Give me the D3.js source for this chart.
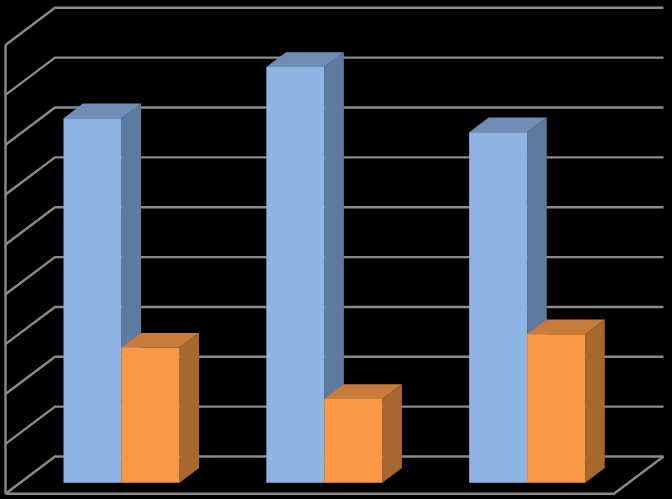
<!DOCTYPE html>
<html>
<head>
<meta charset="utf-8">
<script src="https://cdn.jsdelivr.net/npm/d3@7"></script>
<style>
  html, body { margin: 0; padding: 0; background: #000; overflow: hidden; }
</style>
</head>
<body>
<svg id="chart" width="672" height="499"></svg>
<script>
// Values (the chart has no visible labels)
const categories = ['1', '2', '3'];
const seriesBlue = [7.31, 8.34, 7.03];
const seriesOrange = [2.71, 1.68, 2.98];
const yTicks = [0, 1, 2, 3, 4, 5, 6, 7, 8, 9];

const svg = d3.select('#chart');

// Chart dimensions
const floorLeft = 5.5, floorRight = 614, floorY = 493.7, wallTop = 45;
const depthX = 49.5, depthY = 37.2;
const barFront = 0.295, barBack = 0.69;

// Define scales
const xScale = d3.scaleBand()
    .domain(categories)
    .range([floorLeft, floorRight])
    .paddingInner(0)
    .paddingOuter(0);

const yScale = d3.scaleLinear()
    .domain([0, 9])
    .range([floorY, wallTop]);

// Bars take 116px of each 202.8px category, shifted by the front gap
const serieScale = d3.scaleBand()
    .domain(['blue', 'orange'])
    .range([xScale.bandwidth() * 0.214, xScale.bandwidth() * 0.786]);

// Oblique projection: z = 0 is the front of the floor, z = 1 the back wall
const project = (x, v, z) => [x + z * depthX, yScale(v) - z * depthY];
const poly = pts => d3.line()(pts) + 'Z';

const gridColor = '#8a8a8a';
const gridG = svg.append('g')
    .attr('fill', 'none')
    .attr('stroke', gridColor)
    .attr('stroke-width', 2.4);

// Back wall gridlines and their run down the side wall
gridG.selectAll('path.grid')
    .data(yTicks)
    .join('path')
    .attr('class', 'grid')
    .attr('d', t => d3.line()([
        project(floorLeft, t, 0),
        project(floorLeft, t, 1),
        project(floorRight, t, 1)
    ]));

// Left wall edge and floor outline
gridG.append('path')
    .attr('d', d3.line()([project(floorLeft, 0, 0), project(floorLeft, 9, 0)]));
gridG.append('path')
    .attr('d', d3.line()([
        project(floorLeft, 0, 0),
        project(floorRight, 0, 0),
        project(floorRight, 0, 1)
    ]));

const series = [
    { name: 'blue', values: seriesBlue, front: '#8eb4e3', top: '#6f8db5', side: '#5f7a9f' },
    { name: 'orange', values: seriesOrange, front: '#f99746', top: '#c77c3c', side: '#a6682f' }
];

// Append bars, blue first so orange covers its side face
series.forEach(s => {
    const g = svg.append('g');
    const bars = g.selectAll('g')
        .data(categories.map((c, i) => ({ c, v: s.values[i] })))
        .join('g');
    const x0 = d => xScale(d.c) + serieScale(s.name);
    const x1 = d => x0(d) + serieScale.bandwidth();

    bars.append('path')
        .attr('fill', s.side)
        .attr('d', d => poly([
            project(x1(d), 0, barFront), project(x1(d), 0, barBack),
            project(x1(d), d.v, barBack), project(x1(d), d.v, barFront)
        ]));
    bars.append('path')
        .attr('fill', s.top)
        .attr('d', d => poly([
            project(x0(d), d.v, barFront), project(x1(d), d.v, barFront),
            project(x1(d), d.v, barBack), project(x0(d), d.v, barBack)
        ]));
    bars.append('path')
        .attr('fill', s.front)
        .attr('d', d => poly([
            project(x0(d), 0, barFront), project(x1(d), 0, barFront),
            project(x1(d), d.v, barFront), project(x0(d), d.v, barFront)
        ]));
});
</script>
</body>
</html>
